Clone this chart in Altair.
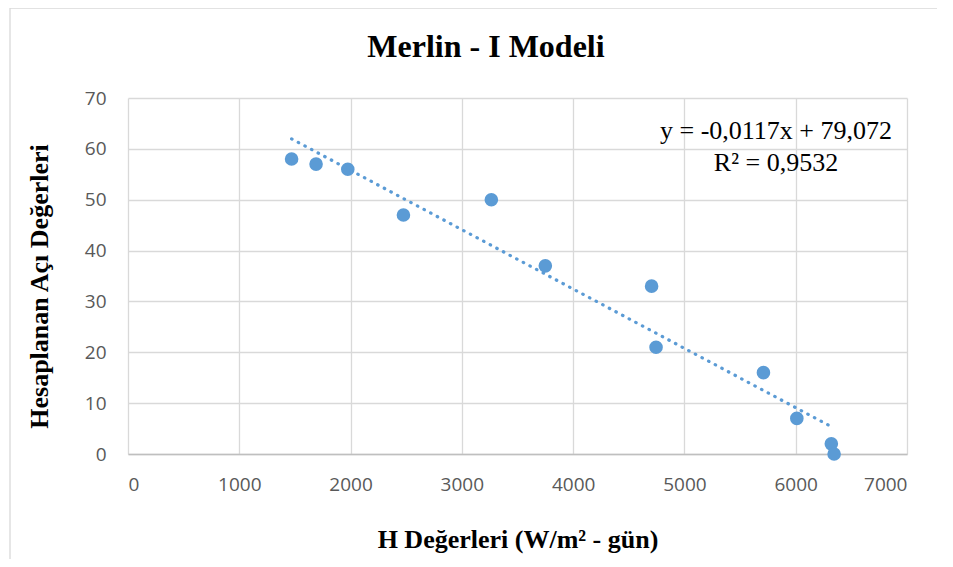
import altair as alt
import pandas as pd

# ---- data ----
h_values = [1470, 1690, 1975, 2475, 3265, 3750, 4705, 4745, 5710, 6010, 6320, 6345]
angle_values = [58, 57, 56, 47, 50, 37, 33, 21, 16, 7, 2, 0]
x_ticks = [0, 1000, 2000, 3000, 4000, 5000, 6000, 7000]
y_ticks = [0, 10, 20, 30, 40, 50, 60, 70]
chart_title = "Merlin - I Modeli"
x_title = "H Değerleri (W/m² - gün)"
y_title = "Hesaplanan Açı Değerleri"
equation_lines = ["y = -0,0117x + 79,072", "R² = 0,9532"]

df = pd.DataFrame({"H": h_values, "A": angle_values})

BLUE = "#5b9bd5"
GRID = "#d9d9d9"
SERIF = "Liberation Serif"

x_enc = alt.X(
    "H:Q",
    scale=alt.Scale(domain=[0, 7000], nice=False, zero=True),
    axis=alt.Axis(
        values=x_ticks, format="d", title=x_title, ticks=False, labelPadding=21,
        domain=True, domainColor="#bfbfbf", domainWidth=1.3,
        titlePadding=32,
    ),
)
y_enc = alt.Y(
    "A:Q",
    scale=alt.Scale(domain=[0, 70], nice=False),
    axis=alt.Axis(
        values=y_ticks, format="d", title=y_title, ticks=False, labelPadding=22,
        domain=False, titlePadding=32, titleY=188,
    ),
)

base = alt.Chart(df)

frame = alt.Chart(pd.DataFrame({"k": [0]})).mark_rect(
    fillOpacity=0, stroke=GRID, strokeWidth=1.3
).encode(
    x=alt.value(-118), x2=alt.value(1100), y=alt.value(-90), y2=alt.value(900)
)

points = base.mark_circle(size=185, color=BLUE, opacity=1).encode(x=x_enc, y=y_enc)

trend = base.transform_regression("H", "A").mark_line(
    color=BLUE, strokeWidth=3.2, strokeDash=[0.5, 7], strokeCap="round"
).encode(x="H:Q", y="A:Q")

annotation = alt.Chart(pd.DataFrame({"k": [0]})).mark_text(
    align="center", baseline="alphabetic", font=SERIF, fontSize=26,
    lineHeight=32, color="black"
).encode(x=alt.value(648), y=alt.value(41), text=alt.value(equation_lines))

title_mark = alt.Chart(pd.DataFrame({"k": [0]})).mark_text(
    align="center", baseline="alphabetic", font=SERIF, fontSize=32,
    fontWeight="bold", color="black"
).encode(x=alt.value(358), y=alt.value(-41), text=alt.value(chart_title))

chart = alt.layer(frame, points, trend, annotation, title_mark).properties(
    width=779,
    height=356,
    autosize=alt.AutoSizeParams(type="none"),
    padding={"left": 120, "top": 90, "right": 30, "bottom": 105},
).configure_view(strokeWidth=0).configure_axis(
    labelFont="Open Sans", labelFontSize=19, labelColor="#595959",
    gridColor=GRID, gridWidth=1.3,
    titleFont=SERIF, titleFontSize=26, titleFontWeight="bold", titleColor="black",
)

chart.save("out.html", embed_options={"renderer": "svg", "actions": False})
